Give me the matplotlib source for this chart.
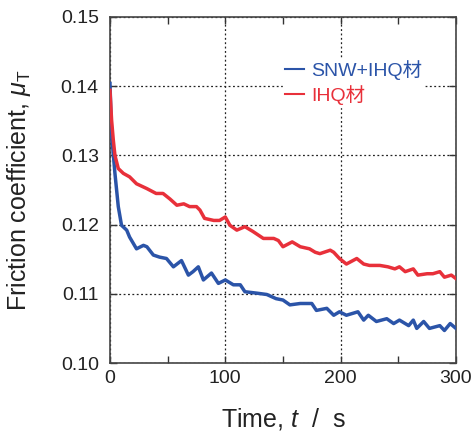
import matplotlib
matplotlib.use("Agg")
import matplotlib.pyplot as plt
from matplotlib.ticker import MultipleLocator

plt.rcParams['font.family'] = ['Liberation Sans', 'Noto Sans CJK JP', 'DejaVu Sans']
plt.rcParams['mathtext.fontset'] = 'custom'
plt.rcParams['mathtext.rm'] = 'Liberation Sans'
plt.rcParams['mathtext.it'] = 'Liberation Sans:italic'

# Data (time in s, friction coefficient)
t_blue = [0, 1.4, 4.3, 7.2, 10, 14.5, 17, 23, 29, 32, 37.6, 43, 49, 55, 62, 68, 72, 76.6, 81, 88,
          94, 100, 107, 113, 117, 127, 136, 144, 150, 156, 165, 175, 179, 188, 194, 199, 205, 215,
          220, 224, 231, 240, 246, 251, 259, 263, 266, 272, 277, 286, 290, 295, 300]
mu_blue = [0.1404, 0.1330, 0.1274, 0.1226, 0.1199, 0.1192, 0.1182, 0.1165, 0.1170, 0.1168, 0.1156,
           0.1153, 0.1151, 0.1139, 0.1148, 0.1127, 0.1132, 0.1139, 0.1120, 0.1130, 0.1115, 0.1120,
           0.1113, 0.1113, 0.1103, 0.1101, 0.1099, 0.1093, 0.1091, 0.1084, 0.1086, 0.1086, 0.1076,
           0.1079, 0.1069, 0.1074, 0.1069, 0.1074, 0.1062, 0.1069, 0.1060, 0.1064, 0.1057, 0.1062,
           0.1054, 0.1062, 0.1050, 0.1060, 0.1050, 0.1054, 0.1047, 0.1057, 0.1050]

t_red = [0, 1.4, 2.9, 4.3, 7.2, 11.6, 17, 23, 32, 40, 46, 52, 58, 64, 69, 75, 78, 82, 90, 95, 100,
         104, 110, 117, 124, 133, 142, 146, 150, 158, 165, 173, 178, 182, 191, 194, 199, 205, 214,
         220, 225, 234, 241, 247, 251, 256, 263, 267, 275, 280, 286, 290, 296, 300]
mu_red = [0.1394, 0.1351, 0.1322, 0.1300, 0.1281, 0.1274, 0.1269, 0.1259, 0.1252, 0.1245, 0.1245,
          0.1237, 0.1228, 0.1230, 0.1226, 0.1226, 0.1221, 0.1209, 0.1206, 0.1206, 0.1211, 0.1199,
          0.1192, 0.1197, 0.1190, 0.1180, 0.1180, 0.1177, 0.1168, 0.1175, 0.1168, 0.1165, 0.1160,
          0.1158, 0.1163, 0.1160, 0.1151, 0.1143, 0.1151, 0.1143, 0.1141, 0.1141, 0.1139, 0.1136,
          0.1139, 0.1132, 0.1136, 0.1127, 0.1129, 0.1129, 0.1132, 0.1124, 0.1127, 0.1122]

labels = ['SNW+IHQ材', 'IHQ材']
colors = ['#2b54a8', '#e8303a']

fig = plt.figure(figsize=(4.72, 4.32), dpi=100)
ax = fig.add_axes([0.233, 0.1597, 0.733, 0.801])

ax.plot(t_blue, mu_blue, color=colors[0], lw=2.5, label=labels[0], zorder=3)
ax.plot(t_red, mu_red, color=colors[1], lw=2.5, label=labels[1], zorder=3)

ax.set_xlim(0, 300)
ax.set_ylim(0.10, 0.15)
ax.xaxis.set_major_locator(MultipleLocator(100))
ax.xaxis.set_minor_locator(MultipleLocator(50))
ax.yaxis.set_major_locator(MultipleLocator(0.01))
ax.yaxis.set_major_formatter(matplotlib.ticker.FormatStrFormatter('%.2f'))
ax.tick_params(which='both', direction='in', top=True, right=True, length=5, width=1,
               labelsize=14, colors='#333333', labelcolor='#222222')
ax.tick_params(axis='x', pad=5)
ax.tick_params(axis='y', pad=8)
ax.grid(True, which='major', color='#222222', ls=(0, (1.5, 2)), lw=0.9)
for s in ax.spines.values():
    s.set_color('#444444')
    s.set_linewidth(1.2)

ax.set_xlabel('Time, $\\mathit{t}$  /  s', fontsize=18, labelpad=14, color='#222222')
ax.set_ylabel('Friction coefficient, $\\mathit{\\mu}_{\\mathrm{T}}$', fontsize=18, labelpad=20, color='#222222')

leg = ax.legend(loc='upper left', bbox_to_anchor=(0.5, 0.88), frameon=True, fontsize=14,
                handlelength=1.0, handletextpad=0.35, borderpad=0.1, labelspacing=0.25,
                borderaxespad=0, labelcolor='linecolor', fancybox=False)
leg.get_frame().set_edgecolor('white')
leg.get_frame().set_facecolor('white')
leg.get_frame().set_alpha(1)
for line in leg.get_lines():
    line.set_linewidth(1.5)

fig.savefig('out.png', dpi=100)
